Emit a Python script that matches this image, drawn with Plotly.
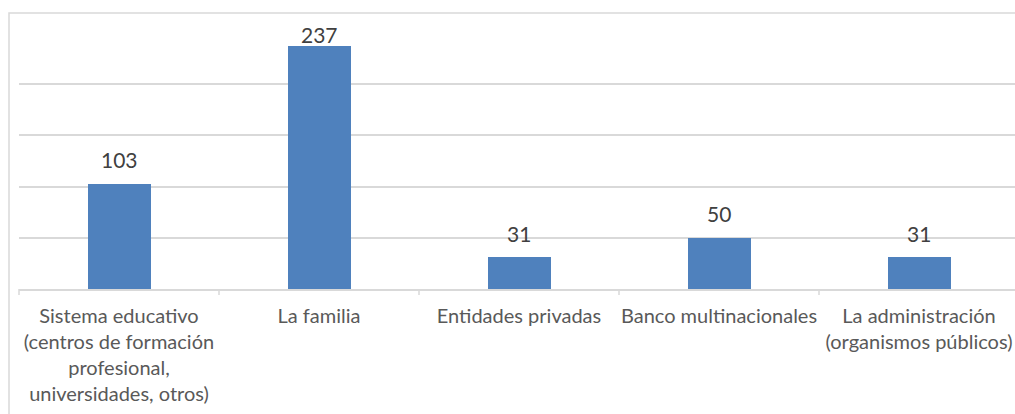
import plotly.graph_objects as go

categories = [
    "Sistema educativo<br>(centros de formación<br>profesional,<br>universidades, otros)",
    "La familia",
    "Entidades privadas",
    "Banco multinacionales",
    "La administración<br>(organismos públicos)",
]
values = [103, 237, 31, 50, 31]

W, H = 1015, 414
ML, MT, MB = 19, 33, 125
plot_w = W - ML
plot_h = H - MT - MB
y_max = 250
px_per_unit = plot_h / y_max

fig = go.Figure()
fig.add_trace(go.Bar(
    x=list(range(len(values))), y=values,
    marker=dict(color="#4f81bd", line=dict(width=0)),
    width=0.315, hoverinfo="skip",
))

# data labels
cap = y_max - 1
for i, v in enumerate(values):
    ly = min(v + 24 / px_per_unit, cap)
    fig.add_annotation(x=i, y=ly, xref="x", yref="y", text=str(v), showarrow=False,
                       yanchor="middle", font=dict(family="Lato", size=21, color="#404040"))

# chart border
fig.add_shape(type="rect", xref="paper", yref="paper",
              x0=-10 / plot_w, x1=1 + 20 / plot_w,
              y0=-(MB + 20) / plot_h, y1=1 + 20 / plot_h,
              line=dict(color="#d9d9d9", width=1.5), layer="below")

fig.update_layout(
    width=W, height=H,
    margin=dict(l=ML, r=0, t=MT, b=MB, autoexpand=False),
    plot_bgcolor="white", paper_bgcolor="white",
    showlegend=False,
    bargap=0,
    xaxis=dict(
        type="linear", range=[-0.5, 4.48], automargin=False,
        tickmode="array", tickvals=list(range(len(values))), ticktext=categories,
        ticks="", showgrid=False, zeroline=False,
        showline=True, linecolor="#d9d9d9", linewidth=1.5,
        tickfont=dict(family="Lato", size=20, color="#595959"),
        ticklabelstandoff=8,
    ),
    yaxis=dict(
        range=[0, y_max], dtick=50, showticklabels=False, automargin=False,
        showgrid=True, gridcolor="#d9d9d9", gridwidth=1.5,
        zeroline=False, showline=False, ticks="",
    ),
)

# category boundary tick marks
for b in [0.5, 1.5, 2.5, 3.5]:
    fig.add_shape(type="line", xref="x", yref="paper", x0=b, x1=b,
                  y0=0, y1=-6 / plot_h, line=dict(color="#d9d9d9", width=1.5))
fig.add_shape(type="line", xref="paper", yref="paper", x0=0, x1=0,
              y0=0, y1=-6 / plot_h, line=dict(color="#d9d9d9", width=1.5))

fig.write_html(
    "out.html",
    config={"displayModeBar": False},
    post_script="document.body.style.margin='0';document.body.style.overflow='hidden';",
)
